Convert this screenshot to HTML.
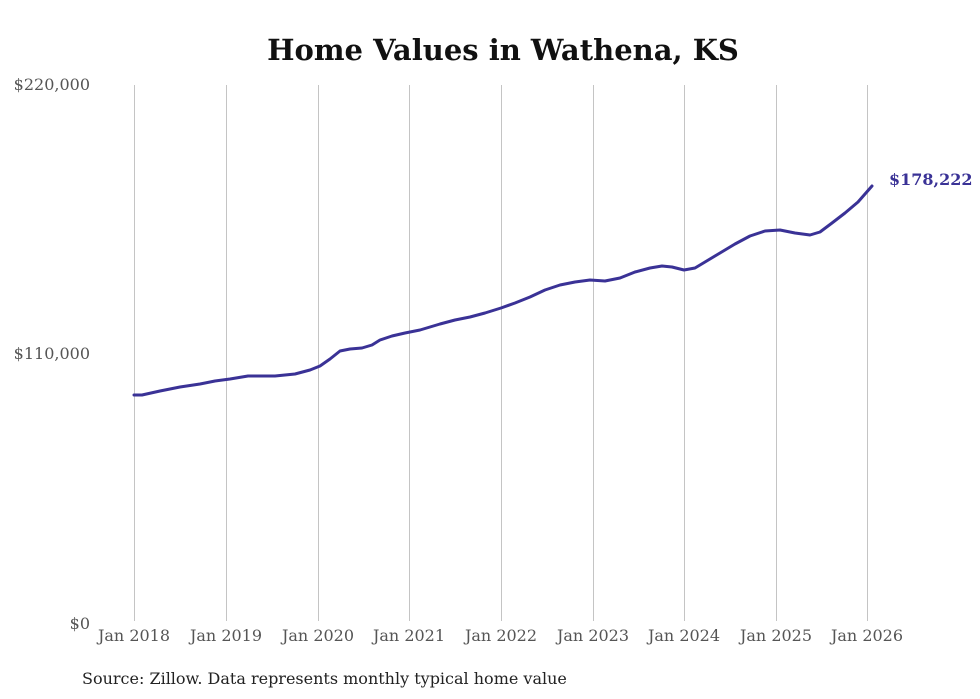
<!DOCTYPE html>
<html><head><meta charset="utf-8"><style>
body{margin:0;background:#fff;}
svg{display:block;font-family:"DejaVu Serif","Liberation Serif",serif;}
</style></head><body>
<svg width="980" height="699" viewBox="0 0 980 699" xmlns="http://www.w3.org/2000/svg">
<rect width="980" height="699" fill="#fff"/>
<text x="503" y="60" text-anchor="middle" font-size="29" font-weight="bold" fill="#111">Home Values in Wathena, KS</text>
<g stroke="#c4c4c4" stroke-width="1">
<line x1="134.5" y1="85" x2="134.5" y2="621"/><line x1="226.5" y1="85" x2="226.5" y2="621"/>
<line x1="318.5" y1="85" x2="318.5" y2="621"/><line x1="409.5" y1="85" x2="409.5" y2="621"/>
<line x1="501.5" y1="85" x2="501.5" y2="621"/><line x1="593.5" y1="85" x2="593.5" y2="621"/>
<line x1="684.5" y1="85" x2="684.5" y2="621"/><line x1="776.5" y1="85" x2="776.5" y2="621"/>
<line x1="867.5" y1="85" x2="867.5" y2="621"/>
</g>
<g font-size="16" fill="#555" text-anchor="end">
<text x="90" y="90">$220,000</text><text x="90" y="359">$110,000</text><text x="90" y="629">$0</text>
</g>
<g font-size="16" fill="#555" text-anchor="middle">
<text x="134" y="641">Jan 2018</text><text x="226" y="641">Jan 2019</text><text x="318" y="641">Jan 2020</text>
<text x="409" y="641">Jan 2021</text><text x="501" y="641">Jan 2022</text><text x="593" y="641">Jan 2023</text>
<text x="684" y="641">Jan 2024</text><text x="776" y="641">Jan 2025</text><text x="867" y="641">Jan 2026</text>
</g>
<polyline fill="none" stroke="#3a3296" stroke-width="3" stroke-linejoin="round" stroke-linecap="round"
points="134,395 142,395 160,391 180,387 200,384 215,381 230,379 248,376 262,376 275,376 295,374 310,370 320,366 330,359 340,351 350,349 362,348 372,345 380,340 392,336 405,333 420,330 440,324 455,320 470,317 485,313 501,308 515,303 530,297 545,290 560,285 575,282 590,280 605,281 620,278 635,272 650,268 662,266 672,267 684,270 695,268 705,262 720,253 735,244 750,236 765,231 780,230 795,233 810,235 820,232 832,223 845,213 858,202 872,186"/>
<text x="889" y="185" font-size="16" font-weight="bold" fill="#3a3296">$178,222</text>
<text x="82" y="684" font-size="16" fill="#222">Source: Zillow. Data represents monthly typical home value</text>
</svg>
</body></html>
